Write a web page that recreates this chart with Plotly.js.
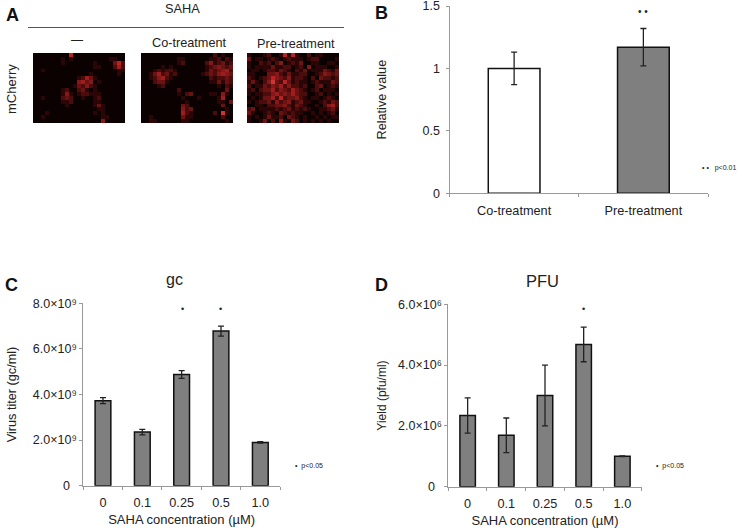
<!DOCTYPE html>
<html>
<head>
<meta charset="utf-8">
<script src="https://cdn.plot.ly/plotly-3.0.1.min.js"></script>
<style>html,body{margin:0;padding:0;background:#fff}#c{width:738px;height:532px}</style>
</head>
<body>
<div id="c"></div>
<script>
// Panel A: coarse fluorescence intensity (0-9)
const imgNone = [
"00000 00006 00000 00000 000","00000 00101 00000 00001 100","00000 00100 00000 10000 362",
"00000 00000 00000 11000 252","00100 00000 00000 00000 011","00000 00000 00001 00000 010",
"00000 00000 01253 10000 000","00000 00000 04534 01000 000","00000 00000 13242 10000 000",
"00000 00120 02310 10000 000","00000 00141 01221 11000 000","00100 00232 00100 12000 000",
"00000 00112 00000 11000 000","00000 00010 00000 13100 000","00000 00000 00000 01100 000",
"00010 00000 00000 10100 000","00100 00000 00000 00110 000","00000 00000 00000 00400 000"];
const imgCo = [
"00000 00000 00000 00020 100","00000 00001 10000 00112 021","00000 00001 20000 02412 312",
"00000 10100 00000 01234 323","00012 12210 00000 01323 452","00135 23120 00000 12324 543",
"00124 52100 00000 00212 232","00023 31000 00000 00113 132","00001 20000 00000 00001 021",
"00000 00002 00000 00000 030","00000 00001 02300 00110 410","00000 00000 10001 00001 500",
"00000 00000 01000 00001 103","00000 00000 32000 00000 300","00000 00000 42300 00000 010",
"00000 00000 52100 00020 710","00100 00000 31100 00000 200","00110 00000 11000 00000 010"];
const imgPre = [
"10001 20016 16100 20110 000","30110 12101 21110 12200 001","10021 20240 12130 01100 110",
"10111 13112 20120 40111 001","01101 22132 10213 01113 213","11000 33421 31122 00124 323",
"21012 36432 41221 02032 212","13102 47326 31211 01211 132","20113 24352 42212 00230 121",
"12023 35243 25321 01201 110","10112 24534 35322 00120 101","01013 35262 33421 01101 210",
"10122 31423 41231 10012 132","00110 22334 21321 00102 452","23011 11212 31212 10011 231",
"31001 21032 12110 01010 120","10101 31120 32101 00101 011","10013 02041 03201 01010 100"];

// Panel B
const catsB = ["Co-treatment","Pre-treatment"];
const valsB = [1.0,1.17];
const errB = [0.13,0.15];
const colorsB = ["#ffffff","#7f7f7f"];
// Panel C
const catsCD = ["0","0.1","0.25","0.5","1.0"];
const valsC = [3.73e9,2.35e9,4.88e9,6.78e9,1.9e9];
const errC = [0.13e9,0.12e9,0.17e9,0.22e9,0.03e9];
const ticksC = [0,2e9,4e9,6e9,8e9];
const tickTextC = ["0\u00a0\u00a0","2.0×10⁹","4.0×10⁹","6.0×10⁹","8.0×10⁹"];
// Panel D
const valsD = [2.34e6,1.69e6,3.0e6,4.68e6,1.0e6];
const errD = [0.58e6,0.57e6,1.0e6,0.57e6,0.01e6];
const ticksD = [0,2e6,4e6,6e6];
const tickTextD = ["0\u00a0\u00a0","2.0×10⁶","4.0×10⁶","6.0×10⁶"];

const W = 738, H = 532, FONT = "Liberation Sans, Arial, sans-serif";
const px = x => x / W, py = y => 1 - y / H;
const dom = (a, b) => [px(a), px(b)];
const domY = (top, bottom) => [py(bottom), py(top)];
const parse = rows => rows.map(r => r.replace(/ /g, "").split("").map(Number));

const heat = (rows, n) => ({
  type: "heatmap", z: parse(rows), xaxis: "x" + n, yaxis: "y" + n, zmin: 0, zmax: 9,
  zsmooth: false, showscale: false, hoverinfo: "skip", xgap: 0, ygap: 0,
  colorscale: [[0,"#0c0101"],[0.11,"#2c0606"],[0.33,"#6a1212"],[0.66,"#b82222"],[1,"#f05858"]]
});
const bar = (x, y, err, colors, ax, ew) => ({
  type: "bar", x, y, xaxis: "x" + ax, yaxis: "y" + ax,
  marker: {color: colors, line: {color: "#111", width: 1.5}},
  error_y: {type: "data", array: err, visible: true, color: "#222", thickness: 1.3, width: ew}
});
const hidden = (d, extra) => Object.assign({domain: d, visible: false, fixedrange: true}, extra);
const xAxis = (d, titleText) => {
  const a = {
    domain: d, type: "category", tickson: "boundaries", ticks: "outside", ticklen: 3,
    ticklabelstandoff: 5,
    tickcolor: "#999", linecolor: "#999", linewidth: 1, showline: true, showgrid: false, zeroline: false,
    tickfont: {size: 12.7, color: "#222", family: FONT}
  };
  if (titleText) a.title = {text: titleText, font: {size: 13, color: "#222", family: FONT}, standoff: 5};
  return a;
};
const yAxis = (d, range, titleText, vals, texts, size, standoff, tsize, labelOff) => ({
  domain: d, range, ticks: "outside", ticklen: 3, tickcolor: "#999", linecolor: "#999", linewidth: 1,
  showline: true, showgrid: false, zeroline: false, tickmode: "array", tickvals: vals, ticktext: texts,
  ticklabeloverflow: "allow", ticklabelstandoff: labelOff,
  tickfont: {size, color: "#222", family: FONT},
  title: {text: titleText, font: {size: tsize, color: "#222", family: FONT}, standoff}
});
const note = (x, y, text, size, opts) => Object.assign({
  xref: "paper", yref: "paper", x: px(x), y: py(y), text, showarrow: false,
  xanchor: "center", yanchor: "middle", font: {size, color: "#222", family: FONT}
}, opts || {});
const letter = (x, y, t) => note(x, y, "<b>" + t + "</b>", 18, {xanchor: "left", font: {size: 18, color: "#111", family: FONT}});

const traces = [
  heat(imgNone, 1), heat(imgCo, 2), heat(imgPre, 3),
  bar(catsB, valsB, errB, colorsB, 4, 3),
  bar(catsCD, valsC, errC, "#7f7f7f", 5, 3),
  bar(catsCD, valsD, errD, "#7f7f7f", 6, 3)
];

const layout = {
  width: W, height: H, margin: {l: 0, r: 0, t: 0, b: 0}, paper_bgcolor: "#fff", plot_bgcolor: "#fff",
  showlegend: false, bargap: 0.6, font: {family: FONT},
  xaxis:  hidden(dom(33,125), {range: [-0.5,22.5], anchor: "y"}),
  yaxis:  hidden(domY(53,123), {range: [17.5,-0.5], anchor: "x"}),
  xaxis2: hidden(dom(141,233), {range: [-0.5,22.5], anchor: "y2"}),
  yaxis2: hidden(domY(53,123), {range: [17.5,-0.5], anchor: "x2"}),
  xaxis3: hidden(dom(247,339), {range: [-0.5,22.5], anchor: "y3"}),
  yaxis3: hidden(domY(53,123), {range: [17.5,-0.5], anchor: "x3"}),
  xaxis4: Object.assign(xAxis(dom(449.5,708)), {anchor: "y4"}),
  yaxis4: Object.assign(yAxis(domY(6,193.3), [0,1.5], "Relative value", [0,0.5,1,1.5], ["0","0.5","1","1.5"], 12.5, 33, 12.7, 3), {anchor: "x4"}),
  xaxis5: Object.assign(xAxis(dom(83.3,280), "SAHA concentration (µM)"), {anchor: "y5"}),
  yaxis5: Object.assign(yAxis(domY(303.3,485.7), [0,8e9], "Virus titer (gc/ml)", ticksC, tickTextC, 12.5, 13, 12.7, 0), {anchor: "x5"}),
  xaxis6: Object.assign(xAxis(dom(448.3,641.7), "SAHA concentration (µM)"), {anchor: "y6"}),
  yaxis6: Object.assign(yAxis(domY(304.3,486.7), [0,6e6], "Yield (pfu/ml)", ticksD, tickTextD, 12.5, 8, 12, 0), {anchor: "x6"}),
  shapes: [{type: "line", xref: "paper", yref: "paper", x0: px(28), x1: px(344), y0: py(27.5), y1: py(27.5),
            line: {color: "#555", width: 1}}],
  annotations: [
    letter(4, 15, "A"), letter(373, 13, "B"), letter(3, 285, "C"), letter(373, 285, "D"),
    note(182, 9, "SAHA", 12.8),
    note(77, 40, "—", 12),
    note(189, 43, "Co-treatment", 12.7),
    note(296, 44, "Pre-treatment", 12.7),
    note(11, 89, "mCherry", 13, {textangle: -90}),
    note(643, 12, "•\u00a0•", 10),
    note(700, 168, "•\u00a0•\u00a0\u00a0\u00a0p<0.01", 7, {xanchor: "left"}),
    note(174, 279, "gc", 16),
    note(182, 309, "•", 9),
    note(220, 309, "•", 9),
    note(293, 466, "•\u00a0\u00a0p<0.05", 7, {xanchor: "left"}),
    note(542, 281, "PFU", 16.5),
    note(583, 309, "•", 9),
    note(654, 466, "•\u00a0\u00a0p<0.05", 7, {xanchor: "left"})
  ]
};
Plotly.newPlot("c", traces, layout, {displayModeBar: false, staticPlot: true});
</script>
</body>
</html>
